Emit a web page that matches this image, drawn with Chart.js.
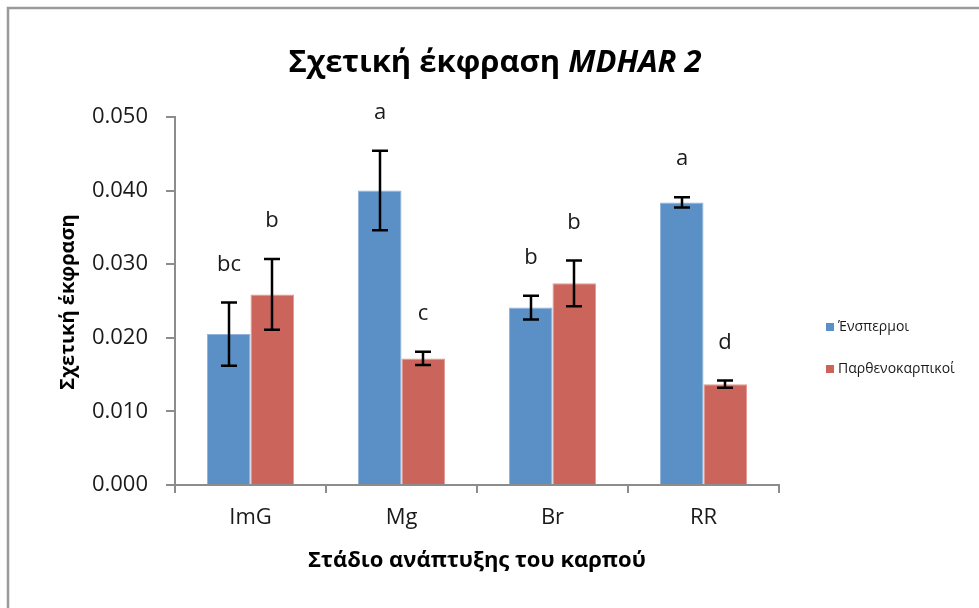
<!DOCTYPE html>
<html>
<head>
<meta charset="utf-8">
<script src="https://cdn.jsdelivr.net/npm/chart.js@4.4.0/dist/chart.umd.min.js"></script>
<style>
  html, body { margin: 0; padding: 0; background: #ffffff; }
  #wrap { width: 979px; height: 608px; }
</style>
</head>
<body>
<div id="wrap"><canvas id="c" width="979" height="608"></canvas></div>
<script>
// Developmental stages of the fruit
const stages = ['ImG', 'Mg', 'Br', 'RR'];

// Relative MDHAR 2 expression (mean) and standard error
const seededMean = [0.0205, 0.0400, 0.0241, 0.0384];
const seededErr = [0.0043, 0.0054, 0.0016, 0.0007];
const partheMean = [0.0259, 0.0172, 0.0274, 0.0137];
const partheErr = [0.0048, 0.0009, 0.0031, 0.0005];

// Significance letters above each bar
const seededLetters = ['bc', 'a', 'b', 'a'];
const partheLetters = ['b', 'c', 'b', 'd'];

const seriesNames = ['Ένσπερμοι', 'Παρθενοκαρπικοί'];
const yTicks = [0, 0.01, 0.02, 0.03, 0.04, 0.05];

const FONT = '"Open Sans", "Noto Sans", sans-serif';
const AXIS = '#8c8c8c';
const BLUE = '#5b90c6';
const RED = '#cb655b';

const extras = {
  id: 'extras',
  beforeDraw(chart) {
    const ctx = chart.ctx;
    ctx.save();
    ctx.fillStyle = '#ffffff';
    ctx.fillRect(0, 0, chart.width, chart.height);
    // outer frame
    ctx.strokeStyle = '#9a9a9a';
    ctx.lineWidth = 2.5;
    ctx.beginPath();
    ctx.moveTo(8, chart.height + 5);
    ctx.lineTo(8, 8);
    ctx.lineTo(chart.width + 5, 8);
    ctx.stroke();
    ctx.restore();
  },
  afterDatasetsDraw(chart) {
    const ctx = chart.ctx;
    const ys = chart.scales.y;
    const sets = [
      { err: seededErr, letters: seededLetters },
      { err: partheErr, letters: partheLetters }
    ];
    ctx.save();
    sets.forEach((s, di) => {
      const meta = chart.getDatasetMeta(di);
      const vals = chart.data.datasets[di].data;
      meta.data.forEach((bar, i) => {
        const x = Math.round(bar.x);
        const top = ys.getPixelForValue(vals[i] + s.err[i]);
        const bot = ys.getPixelForValue(vals[i] - s.err[i]);
        ctx.strokeStyle = '#000000';
        ctx.lineWidth = 2.5;
        ctx.beginPath();
        ctx.moveTo(x, top); ctx.lineTo(x, bot);
        ctx.moveTo(x - 8, top); ctx.lineTo(x + 8, top);
        ctx.moveTo(x - 8, bot); ctx.lineTo(x + 8, bot);
        ctx.stroke();
        ctx.fillStyle = '#1a1a1a';
        ctx.font = '22px ' + FONT;
        ctx.textAlign = 'center';
        ctx.textBaseline = 'middle';
        ctx.fillText(s.letters[i], x, top - 38);
      });
    });
    ctx.restore();
  },
  afterDraw(chart) {
    const ctx = chart.ctx;
    ctx.save();
    // title with italic gene name
    const partA = 'Σχετική έκφραση ';
    const partB = 'MDHAR 2';
    const fA = 'bold 31px ' + FONT;
    const fB = 'italic bold 31px ' + FONT;
    ctx.font = fA; const wA = ctx.measureText(partA).width;
    ctx.font = fB; const wB = ctx.measureText(partB).width;
    let x0 = 495 - (wA + wB) / 2;
    ctx.fillStyle = '#000000';
    ctx.textBaseline = 'alphabetic';
    ctx.textAlign = 'left';
    ctx.font = fA; ctx.fillText(partA, x0, 72);
    ctx.font = fB; ctx.fillText(partB, x0 + wA, 72);

    // axis titles
    ctx.font = 'bold 22px ' + FONT;
    ctx.textAlign = 'center';
    ctx.textBaseline = 'middle';
    ctx.fillText('Στάδιο ανάπτυξης του καρπού', 477, 561);
    ctx.save();
    ctx.translate(68, 302);
    ctx.rotate(-Math.PI / 2);
    ctx.font = 'bold 20px ' + FONT;
    ctx.fillText('Σχετική έκφραση', 0, 0);
    ctx.restore();

    // legend
    const colors = [BLUE, RED];
    const rows = [327, 369];
    ctx.font = '14px ' + FONT;
    ctx.textAlign = 'left';
    seriesNames.forEach((name, i) => {
      ctx.fillStyle = colors[i];
      ctx.fillRect(826, rows[i] - 4, 8, 8);
      ctx.fillStyle = '#1a1a1a';
      ctx.fillText(name, 838, rows[i]);
    });
    ctx.restore();
  }
};

new Chart(document.getElementById('c'), {
  type: 'bar',
  data: {
    labels: stages,
    datasets: [
      { label: seriesNames[0], data: seededMean, backgroundColor: BLUE, borderColor: '#8fb3da', borderWidth: 1 },
      { label: seriesNames[1], data: partheMean, backgroundColor: RED, borderColor: '#e09a93', borderWidth: 1 }
    ]
  },
  options: {
    responsive: false,
    animation: false,
    devicePixelRatio: 1,
    categoryPercentage: 0.577,
    barPercentage: 1.0,
    layout: { padding: { top: 117, right: 200, left: 0, bottom: 0 } },
    plugins: { legend: { display: false }, tooltip: { enabled: false }, title: { display: false } },
    scales: {
      x: {
        grid: { display: true, drawOnChartArea: false, drawTicks: true, tickLength: 8, color: AXIS, lineWidth: 2, offset: true },
        border: { color: AXIS, width: 2 },
        ticks: { color: '#1a1a1a', font: { family: FONT, size: 22 }, padding: 12 },
        afterFit(scale) { scale.height = 123; }
      },
      y: {
        min: 0,
        max: 0.05,
        afterBuildTicks(scale) { scale.ticks = yTicks.map(v => ({ value: v })); },
        grid: { display: true, drawOnChartArea: false, drawTicks: true, tickLength: 9, color: AXIS, lineWidth: 2 },
        border: { color: AXIS, width: 2 },
        ticks: { color: '#1a1a1a', font: { family: FONT, size: 22 }, padding: 18, callback: v => Number(v).toFixed(3) },
        afterFit(scale) { scale.width = 175; }
      }
    }
  },
  plugins: [extras]
});
</script>
</body>
</html>
